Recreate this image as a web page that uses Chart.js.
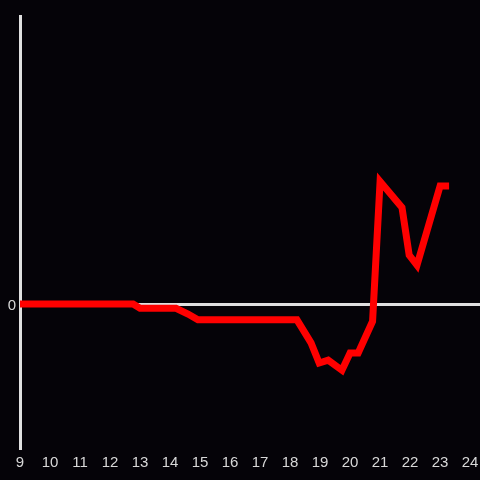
<!DOCTYPE html>
<html>
<head>
<meta charset="utf-8">
<script src="https://cdn.jsdelivr.net/npm/chart.js@4"></script>
<style>
  html, body { margin: 0; padding: 0; background: #050308; }
  #wrap { width: 480px; height: 480px; }
</style>
</head>
<body>
<div id="wrap"><canvas id="myChart" width="480" height="480"></canvas></div>
<script>
var hours = [9, 12.77, 13, 14.2, 14.6, 14.93, 18.23, 18.7, 18.97, 19.27, 19.73, 20, 20.27, 20.75, 21, 21.73, 21.97, 22.23, 23, 23.3];
var values = [0, 0, -0.03, -0.03, -0.07, -0.11, -0.11, -0.27, -0.41, -0.39, -0.46, -0.34, -0.34, -0.12, 0.85, 0.67, 0.34, 0.27, 0.82, 0.82];
var xTicks = [9, 10, 11, 12, 13, 14, 15, 16, 17, 18, 19, 20, 21, 22, 23, 24];
var yTicks = [0];

var points = hours.map(function(h, i) {
   return { x: h, y: values[i] };
});

var ctx = document.getElementById('myChart').getContext('2d');
var chart = new Chart(ctx, {
   type: 'line',
   data: {
      datasets: [{
         data: points,
         borderColor: '#ff0000',
         borderWidth: 7,
         pointRadius: 0,
         tension: 0,
         fill: false
      }]
   },
   plugins: [{
      id: 'bg',
      beforeDraw: function(c) {
         c.ctx.save();
         c.ctx.fillStyle = '#050308';
         c.ctx.fillRect(0, 0, c.width, c.height);
         c.ctx.restore();
      }
   }],
   options: {
      responsive: false,
      animation: false,
      layout: { padding: { top: 16, left: 0, right: 0, bottom: 0 } },
      plugins: { legend: { display: false }, tooltip: { enabled: false } },
      scales: {
         x: {
            type: 'linear',
            min: 9,
            max: 24.33,
            afterBuildTicks: function(s) {
               s.ticks = xTicks.map(function(v) { return { value: v }; });
            },
            afterFit: function(s) {
               s.height = 32;
               s.paddingLeft = 0;
               s.paddingRight = 0;
            },
            grid: { display: false, drawTicks: false },
            border: { display: false },
            ticks: { color: '#d8d8d8', font: { family: 'Liberation Sans', size: 15 }, padding: 6, maxRotation: 0, autoSkip: false }
         },
         y: {
            min: -1,
            max: 2,
            afterBuildTicks: function(s) {
               s.ticks = yTicks.map(function(v) { return { value: v }; });
            },
            afterFit: function(s) { s.width = 20; },
            grid: {
               drawTicks: false,
               color: function(c) { return c.tick && c.tick.value === 0 ? '#e0e0e0' : 'transparent'; },
               lineWidth: 3
            },
            border: { color: '#e0e0e0', width: 3 },
            ticks: { color: '#d8d8d8', font: { family: 'Liberation Sans', size: 15 }, padding: 4, labelOffset: 2 }
         }
      }
   }
});
</script>
</body>
</html>
